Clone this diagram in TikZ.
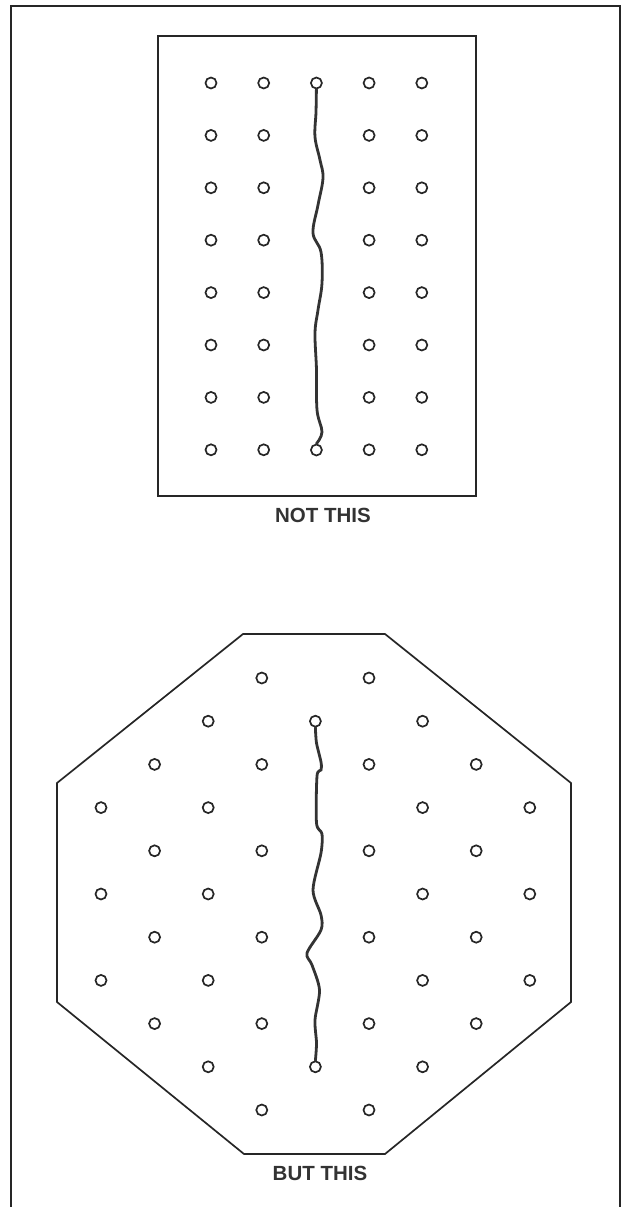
\documentclass[tikz,border=0pt]{standalone}
\usepackage{fontspec}
\setmainfont{Liberation Sans}
\usetikzlibrary{positioning}

\begin{document}
\begin{tikzpicture}[x=1pt,y=-1pt]
        \tikzset{
            peg/.style={draw, circle, inner sep=0pt, minimum size=11pt, line width=1.7pt, black!85},
            board/.style={draw, line width=1.7pt, black!85},
            wiggle/.style={line width=2.8pt, black!80, line cap=round},
            caption/.style={font=\fontsize{20.5}{24}\selectfont\bfseries, black!80, inner sep=0pt}
        }
        \useasboundingbox (0,0) rectangle (623,1207);
        \draw[board] (11,1207) -- (11,6) -- (620,6) -- (620,1207);
        % rectangular board
        \draw[board] (158,36) rectangle (476,496);
        \foreach \i in {0,1,3,4}
            \foreach \j in {0,...,7}
                \node[peg] (r\i\j) at ({211+52.7*\i},{83+52.4*\j}) {};
        \node[peg] (rtop) at (316.4,83) {};
        \node[peg] (rbot) at (316.4,450) {};
        \draw[wiggle] plot[smooth, tension=0.6] coordinates {(rtop.south) (316,112) (315,137) (320,160) (323,178)
            (318,205) (313,233) (321,252) (322,283) (318,310) (315,333) (316.5,370) (317,410) (322,432) (rbot.north)};
        \node[caption] (notthis) at (323,515) {NOT THIS};
        % octagonal board
        \draw[board] (243,634) -- (385,634) -- (571,783) -- (571,1002) -- (385,1154)
            -- (244,1154) -- (57,1002) -- (57,783) -- cycle;
        \foreach \c/\rows in {0/{3,5,7}, 1/{2,4,6,8}, 2/{1,3,5,7,9}, 3/{0,2,4,6,8,10},
                              5/{0,2,4,6,8,10}, 6/{1,3,5,7,9}, 7/{2,4,6,8}, 8/{3,5,7}}
            \foreach \k in \rows
                \node[peg] (o\c-\k) at ({101+53.6*\c},{678+43.2*\k}) {};
        \node[peg] (otop) at (315.4,721.2) {};
        \node[peg] (obot) at (315.4,1066.8) {};
        \draw[wiggle] plot[smooth, tension=0.5] coordinates {(otop.south) (316.5,743) (321,762) (321,770) (317,776)
            (316.5,823) (322,834) (321,853) (313,890) (321,915) (321,930) (307,953) (312,965) (319.5,990)
            (315,1020) (316.5,1043) (obot.north)};
        \node[caption] (butthis) at (320,1173) {BUT THIS};
    \end{tikzpicture}
\end{document}
